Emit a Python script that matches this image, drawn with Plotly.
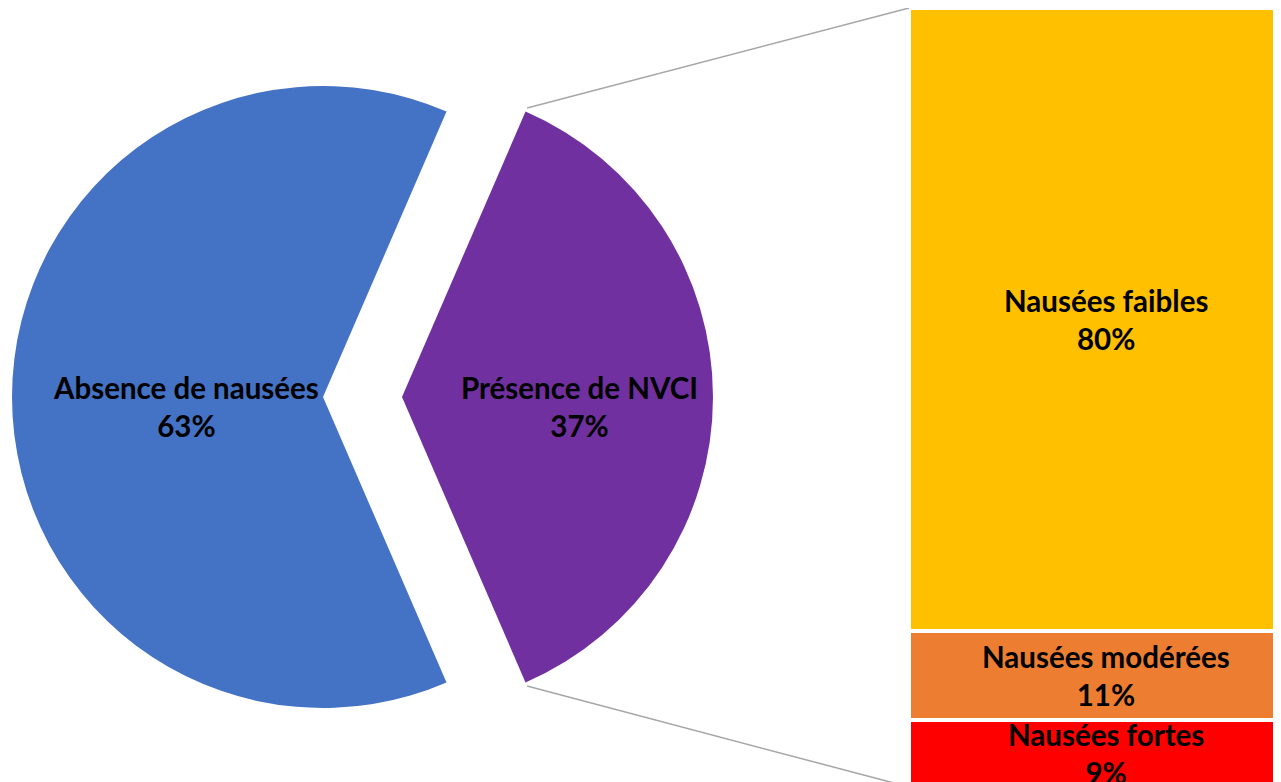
import math
import plotly.graph_objects as go

# ---- data ----
pie_labels = ["Absence de nausées", "Présence de NVCI"]
pie_values = [63, 37]
pie_colors = ["#4472C4", "#7030A0"]

bar_labels = ["Nausées faibles", "Nausées modérées", "Nausées fortes"]
bar_values = [80.0, 11.4, 8.6]
bar_colors = ["#FFC000", "#ED7D31", "#FF0000"]

# ---- layout constants (pixels on the page) ----
W, H = 1281, 782
OFF = 8            # page body margin
R = 311
CY = 397
CX_MAIN = 323      # centre of the main slice
CX_EXPL = 402      # centre of the exploded slice
BAR_LEFT = 909
BAR_TOP = 8
BAR_BOTTOM = 787
FONT = dict(family="Lato", size=29.5, color="black", weight="bold")
TRANSPARENT = "rgba(0,0,0,0)"


def px_x(p):
    return (p - OFF) / W


def px_y(p):
    return 1 - (p - OFF) / H


total = sum(pie_values)
# exploded slice centred at 3 o'clock, clockwise from its start
rotation = 90 - pie_values[1] / total * 180

dom_y = [px_y(CY + R), px_y(CY - R)]

order = [1, 0]
vals = [pie_values[i] for i in order]
labs = [pie_labels[i] for i in order]

fig = go.Figure()
fig.add_trace(go.Pie(
    labels=labs, values=vals, sort=False, direction="clockwise",
    rotation=rotation, textinfo="none",
    marker=dict(colors=[TRANSPARENT, pie_colors[0]], line=dict(width=0)),
    domain=dict(x=[px_x(CX_MAIN - R), px_x(CX_MAIN + R)], y=dom_y), showlegend=False,
))
fig.add_trace(go.Pie(
    labels=labs, values=vals, sort=False, direction="clockwise",
    rotation=rotation, textinfo="none",
    marker=dict(colors=[pie_colors[1], TRANSPARENT], line=dict(width=0)),
    domain=dict(x=[px_x(CX_EXPL - R), px_x(CX_EXPL + R)], y=dom_y), showlegend=False,
))

# ---- stacked bar (bottom-up) ----
bar_total = sum(bar_values)
scale = (BAR_BOTTOM - BAR_TOP) / bar_total
fig_bottom = BAR_BOTTOM - OFF
y_lo = (fig_bottom - H) / scale
y_hi = fig_bottom / scale

annotations = []
base = 0.0
for lab, v, c in reversed(list(zip(bar_labels, bar_values, bar_colors))):
    fig.add_trace(go.Bar(
        x=[0], y=[v], width=1, name=lab,
        marker=dict(color=c, line=dict(color="white", width=4)),
        showlegend=False,
    ))
    annotations.append(dict(
        x=0, y=base + v / 2, xref="x", yref="y", xanchor="center", yanchor="middle",
        xshift=7, text=f"{lab}<br>{round(v)}%", showarrow=False, font=FONT,
    ))
    base += v

# pie labels
pie_label_pos = [(CX_MAIN - 0.44 * R, 406), (CX_EXPL + 0.57 * R, 406)]
for (px, py), lab, v in zip(pie_label_pos, pie_labels, pie_values):
    annotations.append(dict(
        x=px_x(px), y=px_y(py), xref="paper", yref="paper",
        xanchor="center", yanchor="middle",
        text=f"{lab}<br>{v}%", showarrow=False, font=FONT,
    ))

# connector lines from exploded slice edges to bar corners
half = math.radians(pie_values[1] / total * 180)
r_off = R + 4
dx = r_off * math.cos(half)
dy = r_off * math.sin(half)
top_start = (CX_EXPL + dx, CY - dy)
bot_start = (CX_EXPL + dx, CY + dy)
shapes = []
for (sx, sy), (ex, ey) in [(top_start, (BAR_LEFT, BAR_TOP)),
                           (bot_start, (BAR_LEFT, BAR_BOTTOM))]:
    shapes.append(dict(
        type="line", xref="paper", yref="paper",
        x0=px_x(sx), y0=px_y(sy), x1=px_x(ex), y1=px_y(ey),
        line=dict(color="#A6A6A6", width=1.5),
    ))

fig.update_layout(
    width=W, height=H, margin=dict(l=0, r=0, t=0, b=0),
    paper_bgcolor="white", plot_bgcolor="white",
    barmode="stack", bargap=0, showlegend=False,
    xaxis=dict(domain=[px_x(BAR_LEFT), 1], range=[-0.5, 0.5], visible=False, fixedrange=True),
    yaxis=dict(domain=[0, 1], range=[y_lo, y_hi], visible=False, fixedrange=True),
    annotations=annotations, shapes=shapes,
)

fig.write_html("out.html")
